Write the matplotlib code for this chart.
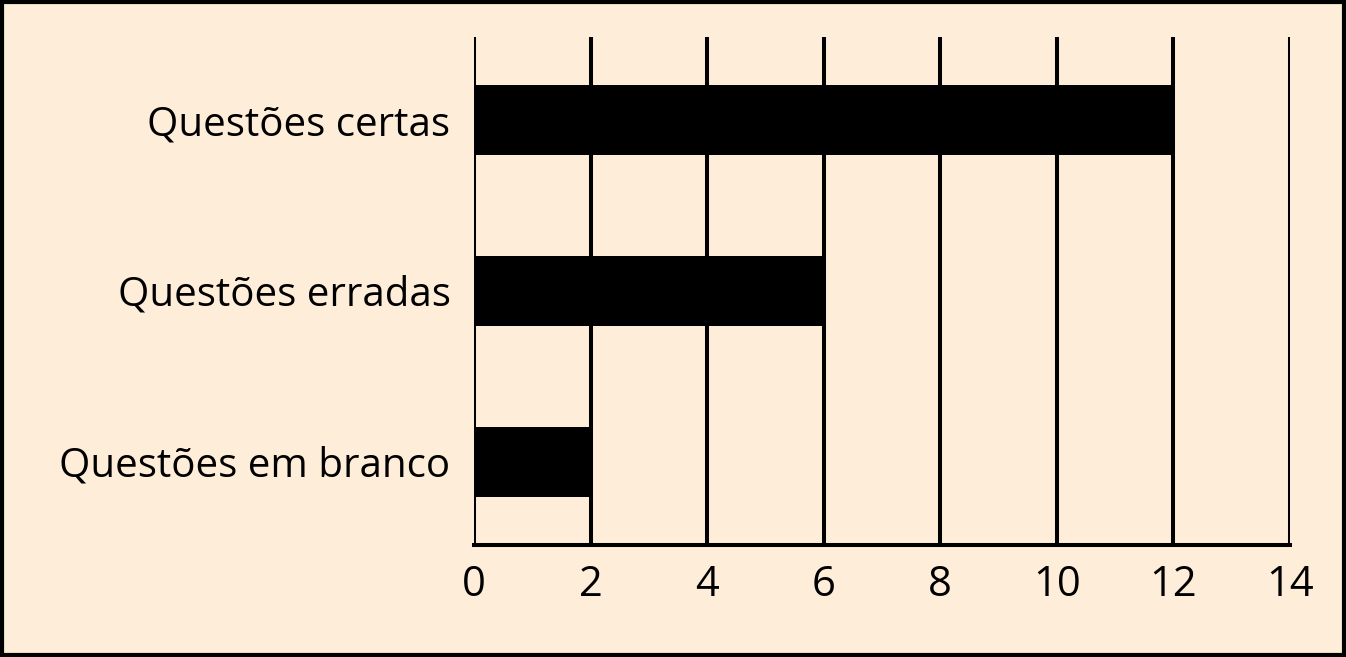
import matplotlib
matplotlib.use("Agg")
import matplotlib.pyplot as plt

categories = ["Questões em branco", "Questões erradas", "Questões certas"]
values = [2, 6, 12]
x_ticks = [0, 2, 4, 6, 8, 10, 12, 14]

BG = "#fdedd9"

fig = plt.figure(figsize=(13.46, 6.57), dpi=100, facecolor=BG)
ax = fig.add_axes([474 / 1346, 1 - 545 / 657, (1290 - 474) / 1346, (545 - 37) / 657])
ax.set_facecolor(BG)

ax.barh(range(len(categories)), values, height=0.41, color="black")

ax.set_xlim(0, 14)
ax.set_ylim(-0.488, 2.485)
ax.set_xticks(x_ticks)
ax.set_xticklabels([str(t) for t in x_ticks])
ax.set_yticks(range(len(categories)))
ax.set_yticklabels(categories)

for t in x_ticks:
    ax.axvline(t, color="black", lw=2.9, zorder=0)

for side in ["top", "right", "left"]:
    ax.spines[side].set_visible(False)
ax.spines["bottom"].set_linewidth(2.9)
ax.tick_params(axis="both", length=0)
ax.tick_params(axis="x", pad=14, labelsize=30)
ax.tick_params(axis="y", pad=17, labelsize=29)
for lab in ax.get_xticklabels() + ax.get_yticklabels():
    lab.set_fontfamily("Open Sans")

# moldura
fig.patches.append(plt.Rectangle((0.0015, 0.003), 0.997, 0.994, transform=fig.transFigure,
                                 fill=False, edgecolor="black", lw=3))

fig.savefig("out.png", dpi=100, facecolor=BG)
